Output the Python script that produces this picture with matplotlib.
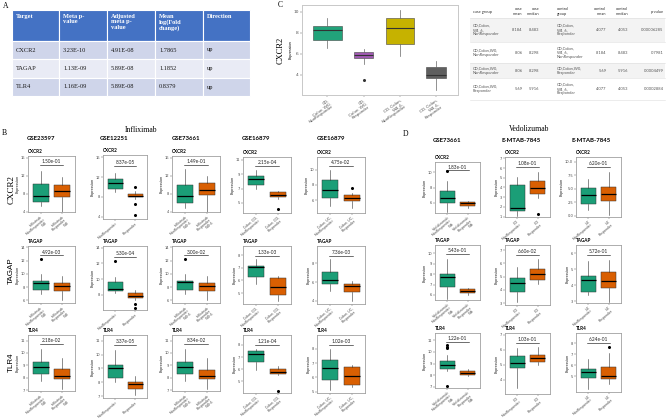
import matplotlib
matplotlib.use("Agg")
import matplotlib.pyplot as plt
from matplotlib.patches import Rectangle
import matplotlib.transforms as mtrans

W, H = 666, 418
SERIF = "Liberation Serif"
SANS = "Lato"

# ---------------- data ----------------
# Panel A table
tableA_header = ["Target", "Meta p-\nvalue", "Adjusted\nmeta p-\nvalue", "Mean\nlog(Fold\nchange)", "Direction"]
tableA_target = ["CXCR2", "TAGAP", "TLR4"]
tableA_meta_p = ["3.23E-10", "1.13E-09", "1.16E-09"]
tableA_adj_p = ["4.91E-08", "5.89E-08", "5.89E-08"]
tableA_logfc = ["1.7865", "1.1852", "0.8379"]
tableA_direction = ["up", "up", "up"]

# Panel C boxplot: [whislo, q1, median, q3, whishi]
c_groups = ["CD,\nColon, W0,\nNonResponder", "CD,\nColon, W0,\nResponder",
            "CD, Colon,\nW4_6,\nNonResponder", "CD, Colon,\nW4_6,\nResponder"]
c_stats = [[6.55, 7.35, 8.3, 8.65, 9.45],
           [5.0, 5.55, 5.9, 6.2, 6.4],
           [5.8, 6.95, 8.5, 9.45, 10.2],
           [2.5, 3.7, 4.0, 4.75, 5.3]]
c_outliers = [[], [3.5], [], []]
c_yticks = [4, 6, 8, 10]

# Panel C table
c_table_header = ["case group", "case\nmean", "case\nmedian", "control\ngroup", "control\nmean", "control\nmedian", "p-value"]
c_case_group = ["CD,Colon,\nW4_6,\nNonResponder", "CD,Colon,W0,\nNonResponder",
                "CD,Colon,W0,\nNonResponder", "CD,Colon,W0,\nResponder"]
c_case_mean = ["8.184", "8.06", "8.06", "5.69"]
c_case_median = ["8.483", "8.298", "8.298", "5.916"]
c_control_group = ["CD,Colon,\nW4_6,\nResponder", "CD,Colon,\nW4_6,\nNonResponder",
                   "CD,Colon,W0,\nResponder", "CD,Colon,\nW4_6,\nResponder"]
c_control_mean = ["4.077", "8.184", "5.69", "4.077"]
c_control_median = ["4.053", "8.483", "5.916", "4.053"]
c_pvalue = ["0.00006285", "0.7981", "0.0004499", "0.0002884"]

genes = ["CXCR2", "TAGAP", "TLR4"]

# Panel B (Infliximab)
inflix_datasets = ["GSE23597", "GSE12251", "GSE73661", "GSE16879", "GSE16879"]
inflix_labels = [
    ["Infliximab\nNonResponder\nW8", "Infliximab\nResponder\nW8"],
    ["NonResponder", "Responder"],
    ["Infliximab\nNonResponder\nW4-6", "Infliximab\nResponder\nW4-6"],
    ["Colon, CD,\nNonResponder", "Colon, CD,\nResponder"],
    ["Colon, UC,\nNonResponder", "Colon, UC,\nResponder"],
]
inflix_CXCR2 = [
    [[5.2, 6.15, 7.5, 10.1, 13.1], [3.9, 7.3, 8.6, 9.9, 11.8]],
    [[9.0, 9.65, 10.8, 11.6, 12.9], [7.5, 7.9, 8.1, 8.5, 9.2]],
    [[4.9, 6.0, 7.5, 10.0, 13.4], [3.7, 7.6, 8.9, 10.4, 11.9]],
    [[6.9, 7.5, 8.35, 8.8, 9.6], [5.5, 5.8, 6.1, 6.5, 6.7]],
    [[5.2, 6.3, 7.4, 8.6, 10.0], [4.9, 5.9, 6.3, 6.7, 6.9]],
]
inflix_CXCR2_out = [[[], []], [[], [10.0, 6.5, 4.3]], [[], []], [[], [4.1]], [[], [7.6]]]
inflix_CXCR2_p = ["1.50e-01", "8.37e-05", "1.49e-01", "2.15e-04", "4.75e-02"]
inflix_CXCR2_ticks = [["4", "8", "12", "16"], ["4", "8", "12", "16"], ["4", "8", "12", "16"],
                      ["5", "7", "9", "11"], ["6", "8", "10"]]
inflix_CXCR2_ylim = [(3.9, 16.4), (3.5, 16.5), (3.9, 16.4), (3.6, 11.4), (4.3, 11.7)]

inflix_TAGAP = [
    [[6.9, 7.5, 8.6, 8.9, 10.0], [6.0, 7.35, 8.1, 8.6, 9.7]],
    [[8.3, 8.5, 8.7, 9.7, 10.3], [7.4, 7.6, 7.9, 8.3, 8.6]],
    [[6.9, 7.5, 8.7, 8.9, 10.0], [6.0, 7.35, 8.2, 8.6, 9.7]],
    [[5.7, 6.24, 7.1, 7.16, 7.7], [4.4, 4.87, 5.45, 6.16, 6.37]],
    [[5.07, 5.78, 6.24, 7.12, 8.43], [4.0, 4.9, 5.6, 5.78, 6.13]],
]
inflix_TAGAP_out = [[[12.2], []], [[12.3], [6.8, 6.4]], [[12.2], []], [[], []], [[], []]]
inflix_TAGAP_p = ["4.92e-03", "5.30e-04", "3.00e-02", "1.33e-03", "7.36e-03"]
inflix_TAGAP_ticks = [["6", "8", "10", "12", "14"], ["8", "10", "12", "14"], ["6", "8", "10", "12", "14"],
                      ["5", "6", "7", "8"], ["4", "6", "8"]]
inflix_TAGAP_ylim = [(5.6, 14.2), (6.1, 14.2), (5.6, 14.2), (4.13, 8.74), (3.66, 9.84)]

inflix_TLR4 = [
    [[7.72, 8.3, 8.87, 9.27, 10.33], [7.05, 7.9, 8.12, 8.7, 9.6]],
    [[8.0, 8.3, 9.02, 9.26, 10.33], [7.07, 7.52, 7.88, 8.0, 8.47]],
    [[7.7, 8.3, 8.87, 9.27, 10.35], [7.05, 7.9, 8.12, 8.65, 9.55]],
    [[5.96, 6.64, 7.24, 7.51, 7.67], [5.55, 5.6, 5.77, 6.0, 6.3]],
    [[5.1, 5.84, 6.65, 7.23, 8.0], [5.33, 5.49, 6.07, 6.7, 6.84]],
]
inflix_TLR4_out = [[[], []], [[], []], [[], []], [[], [4.24]], [[], []]]
inflix_TLR4_p = ["2.18e-02", "3.37e-05", "8.34e-02", "1.21e-04", "1.02e-03"]
inflix_TLR4_ticks = [["7", "8", "9", "10", "11"], ["7", "8", "9", "10", "11"], ["7", "8", "9", "10", "11"],
                     ["5", "6", "7", "8"], ["5", "6", "7", "8"]]
inflix_TLR4_ylim = [(6.92, 11.45), (6.88, 11.4), (6.92, 11.45), (4.05, 8.82), (4.9, 8.98)]

# Panel D (Vedolizumab)
vedo_datasets = ["GSE73661", "E-MTAB-7845", "E-MTAB-7845"]
vedo_labels = [
    ["Vedolizumab\nNonResponder\nW6", "Vedolizumab\nResponder\nW6"],
    ["CD\nNonResponder", "CD\nResponder"],
    ["UC\nNonResponder", "UC\nResponder"],
]
vedo_CXCR2 = [
    [[4.8, 6.0, 6.6, 7.6, 8.9], [5.3, 5.6, 6.0, 6.1, 6.2]],
    [[1.05, 1.6, 1.85, 4.3, 5.1], [2.9, 3.35, 3.9, 4.7, 5.6]],
    [[1.1, 2.2, 3.85, 5.07, 6.9], [0.17, 2.74, 4.03, 5.38, 8.14]],
]
vedo_CXCR2_out = [[[10.2], []], [[], [1.25]], [[], []]]
vedo_CXCR2_p = ["1.83e-01", "1.08e-01", "6.20e-01"]
vedo_CXCR2_ticks = [["6", "8", "10"], ["1", "2", "3", "4", "5", "6", "7"], ["0.0", "2.5", "5.0", "7.5", "10.0"]]
vedo_CXCR2_ylim = [(4.7, 11.3), (0.95, 7.15), (-0.25, 10.9)]

vedo_TAGAP = [
    [[5.6, 6.8, 7.7, 8.0, 9.5], [6.0, 6.2, 6.4, 6.6, 6.7]],
    [[3.1, 3.8, 4.5, 4.9, 5.75], [4.4, 4.7, 5.2, 5.55, 6.3]],
    [[3.42, 3.58, 4.35, 4.56, 5.5], [2.95, 3.83, 4.25, 4.83, 5.6]],
]
vedo_TAGAP_out = [[[], []], [[], []], [[], []]]
vedo_TAGAP_p = ["5.43e-01", "6.60e-02", "5.72e-01"]
vedo_TAGAP_ticks = [["6", "7", "8", "9", "10"], ["3", "4", "5", "6", "7"], ["3", "4", "5", "6"]]
vedo_TAGAP_ylim = [(5.52, 10.8), (2.85, 7.38), (2.9, 6.5)]

vedo_TLR4 = [
    [[8.37, 8.57, 8.91, 9.2, 9.77], [7.97, 8.06, 8.2, 8.37, 8.57]],
    [[3.47, 4.75, 5.11, 5.56, 6.1], [4.96, 5.17, 5.43, 5.64, 6.2]],
    [[3.8, 4.82, 5.36, 5.66, 6.56], [4.31, 4.76, 5.0, 5.81, 7.16]],
]
vedo_TLR4_out = [[[10.6, 10.45, 10.3, 7.1], []], [[], []], [[], [7.7]]]
vedo_TLR4_p = ["1.22e-01", "1.03e-01", "6.24e-01"]
vedo_TLR4_ticks = [["7", "8", "9", "10", "11"], ["4", "5", "6", "7"], ["5", "6", "7", "8"]]
vedo_TLR4_ylim = [(6.91, 11.63), (3.04, 7.1), (3.56, 8.96)]

# ---------------- styles / layout ----------------
GREEN = "#1B9E77"
ORANGE = "#D95F02"
C_COLORS = ["#22A37A", "#A05AB2", "#C6B200", "#5F5F5F"]
C_WIDTHS = [0.79, 0.53, 0.79, 0.55]

fig = plt.figure(figsize=(W / 100, H / 100), dpi=100)
fig.patch.set_facecolor("white")
canvas = fig.add_axes([0, 0, 1, 1], zorder=-1)
canvas.set_xlim(0, W)
canvas.set_ylim(H, 0)
canvas.axis("off")


def px_axes(x0, y0, x1, y1):
    return fig.add_axes([x0 / W, 1 - y1 / H, (x1 - x0) / W, (y1 - y0) / H])


def make_stats(summaries, outliers):
    return [dict(whislo=s[0], q1=s[1], med=s[2], q3=s[3], whishi=s[4], fliers=o)
            for s, o in zip(summaries, outliers)]


def small_box(box, gene, summaries, outliers, labels, ylim, ticks, ptext):
    ax = px_axes(*box)
    res = ax.bxp(make_stats(summaries, outliers), positions=[1, 2], widths=0.75,
                 patch_artist=True, showcaps=False,
                 boxprops=dict(linewidth=0.35, edgecolor="#333333"),
                 medianprops=dict(color="black", linewidth=0.9),
                 whiskerprops=dict(color="#333333", linewidth=0.4),
                 flierprops=dict(marker="o", markersize=1.2, markerfacecolor="black",
                                 markeredgecolor="black", linestyle="none"))
    for patch, col in zip(res["boxes"], [GREEN, ORANGE]):
        patch.set_facecolor(col)
    ax.set_xlim(0.4, 2.6)
    ax.set_ylim(*ylim)
    ax.set_yticks([float(t) for t in ticks])
    ax.set_yticklabels(ticks)
    ax.set_xticks([1, 2])
    ax.set_xticklabels(labels, rotation=40, ha="right", rotation_mode="anchor",
                       fontsize=2.6, color="#4D4D4D", family=SANS, linespacing=0.95)
    ax.tick_params(axis="y", labelsize=2.6, length=1.2, width=0.3, pad=0.8, colors="#4D4D4D")
    ax.tick_params(axis="x", length=1.2, width=0.3, pad=0.8, colors="#4D4D4D")
    for s in ax.spines.values():
        s.set_color("#A0A0A0")
        s.set_linewidth(0.6)
    ax.set_ylabel("Expression", fontsize=2.8, labelpad=1.0, family=SANS, color="#222222")
    ax.set_title(gene, loc="left", fontsize=3.3, fontweight="bold", pad=2.2, family=SANS)
    trans = mtrans.blended_transform_factory(ax.transData, ax.transAxes)
    ax.plot([0.95, 2.05], [0.835, 0.835], transform=trans, color="black", lw=0.4)
    ax.text(1.5, 0.85, ptext, transform=trans, ha="center", va="bottom", fontsize=3.4,
            family=SANS, color="#222222")
    return ax


# ---------------- Panel A ----------------
canvas.text(3, 6, "A", fontsize=5.5, family=SERIF, va="center", ha="left")
colsA = [12, 59, 107, 155, 203, 250]
rowsA = [10, 41, 59, 78, 96]
for j, htxt in enumerate(tableA_header):
    canvas.add_patch(Rectangle((colsA[j], rowsA[0]), colsA[j + 1] - colsA[j], rowsA[1] - rowsA[0],
                               facecolor="#4472C4", edgecolor="white", lw=0.8))
    canvas.text(colsA[j] + 4, rowsA[0] + 4, htxt, ha="left", va="top", fontsize=4.6,
                color="white", fontweight="bold", family=SERIF, linespacing=1.1)
bodyA = list(zip(tableA_target, tableA_meta_p, tableA_adj_p, tableA_logfc, tableA_direction))
rowcolA = ["#CFD5EA", "#E9EBF5", "#CFD5EA"]
for i, row in enumerate(bodyA):
    for j, val in enumerate(row):
        canvas.add_patch(Rectangle((colsA[j], rowsA[i + 1]), colsA[j + 1] - colsA[j],
                                   rowsA[i + 2] - rowsA[i + 1], facecolor=rowcolA[i],
                                   edgecolor="white", lw=0.8))
        canvas.text(colsA[j] + 4, (rowsA[i + 1] + rowsA[i + 2]) / 2, val, ha="left", va="center",
                    fontsize=4.6, family=SERIF, color="#1A1A1A")

# ---------------- Panel C ----------------
canvas.text(278, 5, "C", fontsize=5.5, family=SERIF, va="center", ha="left")
axC = px_axes(302, 5, 458, 95)
resC = axC.bxp(make_stats(c_stats, c_outliers), positions=[1, 2, 3, 4], widths=C_WIDTHS,
               patch_artist=True, showcaps=False,
               boxprops=dict(linewidth=0.4, edgecolor="#444444"),
               medianprops=dict(color="#333333", linewidth=0.8),
               whiskerprops=dict(color="#666666", linewidth=0.5),
               flierprops=dict(marker="o", markersize=1.2, markerfacecolor="#333333",
                               markeredgecolor="#333333", linestyle="none"))
for patch, col in zip(resC["boxes"], C_COLORS):
    patch.set_facecolor(col)
axC.set_xlim(0.3, 4.6)
axC.set_ylim(2.05, 10.65)
axC.set_yticks(c_yticks)
axC.set_xticks([1, 2, 3, 4])
axC.set_xticklabels(c_groups, rotation=35, ha="right", rotation_mode="anchor", fontsize=3.2,
                    color="#555555", family=SANS, linespacing=1.0)
axC.tick_params(axis="both", labelsize=3.2, length=1.2, width=0.3, pad=1, colors="#555555")
for s in axC.spines.values():
    s.set_color("#C8C8C8")
    s.set_linewidth(0.7)
axC.set_ylabel("Expression", fontsize=2.9, labelpad=0.8, family=SANS)
canvas.text(281, 50, "CXCR2", rotation=90, fontsize=6, family=SERIF, ha="center", va="center")

# C table
rowsC = [5, 18, 42, 63, 78, 100]
canvas.add_patch(Rectangle((470, rowsC[1]), 195, rowsC[2] - rowsC[1], facecolor="#F3F3F3", lw=0))
canvas.add_patch(Rectangle((470, rowsC[3]), 195, rowsC[4] - rowsC[3], facecolor="#F3F3F3", lw=0))
for yy in rowsC[1:]:
    canvas.plot([470, 665], [yy, yy], color="#DDDDDD", lw=0.4)
text_x = [473, 522.5, 539.5, 556.5, 606.5, 628.5, 663.5]
text_ha = ["left", "right", "right", "left", "right", "right", "right"]
for j, htxt in enumerate(c_table_header):
    canvas.text(text_x[j], (rowsC[0] + rowsC[1]) / 2, htxt, ha=text_ha[j], va="center",
                fontsize=2.9, family=SANS, color="#333333", linespacing=1.05)
bodyC = list(zip(c_case_group, c_case_mean, c_case_median, c_control_group,
                 c_control_mean, c_control_median, c_pvalue))
for i, row in enumerate(bodyC):
    yc = (rowsC[i + 1] + rowsC[i + 2]) / 2
    for j, val in enumerate(row):
        canvas.text(text_x[j], yc, val, ha=text_ha[j], va="center", fontsize=2.9,
                    family=SANS, color="#555555", linespacing=1.05)

# ---------------- Panel B ----------------
canvas.text(2, 133, "B", fontsize=5.5, family=SERIF, va="center", ha="left")
canvas.text(141, 130, "Infliximab", fontsize=5.5, family=SERIF, va="center", ha="center")
canvas.text(11.5, 190, "CXCR2", rotation=90, fontsize=6.5, family=SERIF, ha="center", va="center")
canvas.text(11.5, 271, "TAGAP", rotation=90, fontsize=5.8, family="Liberation Sans", ha="center", va="center")
canvas.text(11.5, 362, "TLR4", rotation=90, fontsize=5.8, family="Liberation Sans", ha="center", va="center")

B_x = [(28, 75), (103, 147), (172, 220), (243, 291), (317, 365)]
B_y = [[(156, 212), (155, 219), (156, 212), (157, 213), (157, 213)],
       [(246, 303), (246, 310), (246, 303), (246, 304), (246, 304)],
       [(335, 391), (335, 398), (335, 391), (335, 393), (335, 393)]]
B_head_x = [27, 100, 172, 242, 317]
for k, name in enumerate(inflix_datasets):
    canvas.text(B_head_x[k], 139, name, fontsize=4.3, fontweight="bold", family=SANS, va="center", ha="left")

B_rows = [(inflix_CXCR2, inflix_CXCR2_out, inflix_CXCR2_ylim, inflix_CXCR2_ticks, inflix_CXCR2_p),
          (inflix_TAGAP, inflix_TAGAP_out, inflix_TAGAP_ylim, inflix_TAGAP_ticks, inflix_TAGAP_p),
          (inflix_TLR4, inflix_TLR4_out, inflix_TLR4_ylim, inflix_TLR4_ticks, inflix_TLR4_p)]
for r, (st, out, yl, tk, pv) in enumerate(B_rows):
    for k in range(5):
        x0, x1 = B_x[k]
        y0, y1 = B_y[r][k]
        small_box((x0, y0, x1, y1), genes[r], st[k], out[k], inflix_labels[k], yl[k], tk[k], pv[k])

# ---------------- Panel D ----------------
canvas.text(403, 134, "D", fontsize=5.5, family=SERIF, va="center", ha="left")
canvas.text(529, 129, "Vedolizumab", fontsize=5.5, family=SERIF, va="center", ha="center")
D_x = [(435, 480), (505, 550), (576, 621)]
D_y = [[(162, 213), (157, 217), (157, 217)],
       [(245, 300), (245, 305), (245, 303)],
       [(333, 388), (333, 394), (333, 392)]]
D_head_x = [433, 501, 572]
for k, name in enumerate(vedo_datasets):
    canvas.text(D_head_x[k], 140, name, fontsize=4.3, fontweight="bold", family=SANS, va="center", ha="left")

D_rows = [(vedo_CXCR2, vedo_CXCR2_out, vedo_CXCR2_ylim, vedo_CXCR2_ticks, vedo_CXCR2_p),
          (vedo_TAGAP, vedo_TAGAP_out, vedo_TAGAP_ylim, vedo_TAGAP_ticks, vedo_TAGAP_p),
          (vedo_TLR4, vedo_TLR4_out, vedo_TLR4_ylim, vedo_TLR4_ticks, vedo_TLR4_p)]
for r, (st, out, yl, tk, pv) in enumerate(D_rows):
    for k in range(3):
        x0, x1 = D_x[k]
        y0, y1 = D_y[r][k]
        small_box((x0, y0, x1, y1), genes[r], st[k], out[k], vedo_labels[k], yl[k], tk[k], pv[k])

fig.savefig("out.png", dpi=100, facecolor="white")
